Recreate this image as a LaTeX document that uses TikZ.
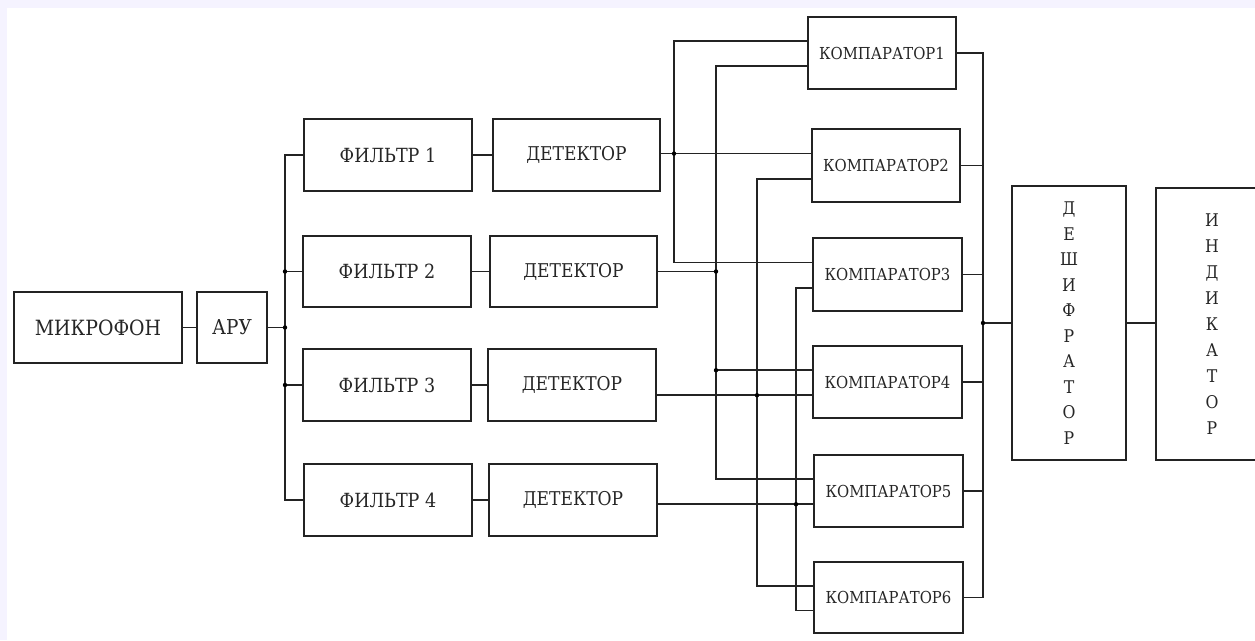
\documentclass[tikz,border=0pt]{standalone}
\usepackage{fontspec}
\setmainfont[FakeStretch=0.9]{DejaVu Serif}
\usetikzlibrary{calc}
\definecolor{framelilac}{RGB}{245,243,255}
\definecolor{wiregray}{RGB}{35,35,35}

\begin{document}
\begin{tikzpicture}[x=1pt, y=-1pt,
    blk/.style={draw=wiregray, line width=1.5pt, inner sep=0pt, align=center, text=black!85},
    wire/.style={wiregray, line width=1.5pt},
    dot/.style={fill=black}]
  \fill[framelilac] (0,0) rectangle (1255,640);
  \fill[white] (7,8) rectangle (1255,640);
  \clip (0,0) rectangle (1255,640);

  % input chain
  \node[blk, minimum width=168pt, minimum height=71pt, font=\fontsize{21}{23}\selectfont] (mic) at (98,327.5) {МИКРОФОН};
  \node[blk, minimum width=70pt, minimum height=71pt, font=\fontsize{20.5}{23}\selectfont] (aru) at (232,327.5) {АРУ};

  \node[blk, minimum width=168pt, minimum height=72pt, font=\fontsize{19.5}{22}\selectfont] (f1) at (388,155) {ФИЛЬТР 1};
  \node[blk, minimum width=168pt, minimum height=71pt, font=\fontsize{19.5}{22}\selectfont] (f2) at (387,271.5) {ФИЛЬТР 2};
  \node[blk, minimum width=168pt, minimum height=72pt, font=\fontsize{19.5}{22}\selectfont] (f3) at (387,385) {ФИЛЬТР 3};
  \node[blk, minimum width=168pt, minimum height=72pt, font=\fontsize{19.5}{22}\selectfont] (f4) at (388,500) {ФИЛЬТР 4};

  \node[blk, minimum width=167pt, minimum height=72pt, font=\fontsize{19}{22}\selectfont] (d1) at (576.5,155) {ДЕТЕКТОР};
  \node[blk, minimum width=167pt, minimum height=71pt, font=\fontsize{19}{22}\selectfont] (d2) at (573.5,271.5) {ДЕТЕКТОР};
  \node[blk, minimum width=168pt, minimum height=72pt, font=\fontsize{19}{22}\selectfont] (d3) at (572,385) {ДЕТЕКТОР};
  \node[blk, minimum width=168pt, minimum height=72pt, font=\fontsize{19}{22}\selectfont] (d4) at (573,500) {ДЕТЕКТОР};

  % comparators
  \node[blk, minimum width=148pt, minimum height=72pt, font=\fontsize{16.5}{19}\selectfont] (k1) at (882,53) {КОМПАРАТОР1};
  \node[blk, minimum width=148pt, minimum height=73pt, font=\fontsize{16.5}{19}\selectfont] (k2) at (886,165.5) {КОМПАРАТОР2};
  \node[blk, minimum width=149pt, minimum height=73pt, font=\fontsize{16.5}{19}\selectfont] (k3) at (887.5,274.5) {КОМПАРАТОР3};
  \node[blk, minimum width=149pt, minimum height=72pt, font=\fontsize{16.5}{19}\selectfont] (k4) at (887.5,382) {КОМПАРАТОР4};
  \node[blk, minimum width=149pt, minimum height=72pt, font=\fontsize{16.5}{19}\selectfont] (k5) at (888.5,491) {КОМПАРАТОР5};
  \node[blk, minimum width=149pt, minimum height=71pt, font=\fontsize{16.5}{19}\selectfont] (k6) at (888.5,597.5) {КОМПАРАТОР6};

  \node[blk, minimum width=114pt, minimum height=274pt, font=\fontsize{17.5}{25.5}\selectfont] (dec) at (1069,323) {Д\\Е\\Ш\\И\\Ф\\Р\\А\\Т\\О\\Р};
  \node[blk, minimum width=112pt, minimum height=272pt, font=\fontsize{17.5}{26}\selectfont] (ind) at (1212,324) {И\\Н\\Д\\И\\К\\А\\Т\\О\\Р};

  % comparator inputs and buses
  \foreach \k in {1,...,6} {
    \coordinate (k\k a) at ($(k\k.north west)!0.34!(k\k.south west)$);
    \coordinate (k\k b) at ($(k\k.north west)!0.68!(k\k.south west)$);
  }
  \coordinate (fb) at (285,0);
  \coordinate (b1) at (674,0);
  \coordinate (b2) at (716,0);
  \coordinate (b3) at (757,0);
  \coordinate (b4) at (796,0);
  \coordinate (rb) at (983,0);

  \draw[wire] (mic) -- (aru);
  \draw[wire] (f1.west) -- (f1.west -| fb) -- (f4.west -| fb) -- (f4.west);
  \draw[wire] (f2.west) -- (f2.west -| fb);
  \draw[wire] (f3.west) -- (f3.west -| fb);
  \draw[wire] (aru.east) -- (aru.east -| fb);
  \foreach \i in {1,...,4} \draw[wire] (f\i.east) -- (f\i.east -| d\i.west);
  \fill[dot] (aru.east -| fb) circle (2.2pt) (f2.west -| fb) circle (2.2pt) (f3.west -| fb) circle (2.2pt);

  \draw[wire] (d1.east |- k2a) -- (k2a);
  \draw[wire] (k1a) -- (k1a -| b1) -- (k3a -| b1) -- (k3a);
  \fill[dot] (k2a -| b1) circle (2.2pt);

  \draw[wire] (d2.east) -- (d2.east -| b2);
  \draw[wire] (k1b) -- (k1b -| b2) -- (k5a -| b2) -- (k5a);
  \draw[wire] (k4a -| b2) -- (k4a);
  \fill[dot] (d2.east -| b2) circle (2.2pt) (k4a -| b2) circle (2.2pt);

  \draw[wire] (d3.east |- k4b) -- (k4b);
  \draw[wire] (k2b) -- (k2b -| b3) -- (k6a -| b3) -- (k6a);
  \fill[dot] (k4b -| b3) circle (2.2pt);

  \draw[wire] (d4.east |- k5b) -- (k5b);
  \draw[wire] (k3b) -- (k3b -| b4) -- (k6b -| b4) -- (k6b);
  \fill[dot] (k5b -| b4) circle (2.2pt);

  % comparator outputs
  \draw[wire] (k1.east) -- (k1.east -| rb) -- (k6.east -| rb) -- (k6.east);
  \foreach \k in {k2,k3,k4,k5} \draw[wire] (\k.east) -- (\k.east -| rb);
  \draw[wire] (dec.west -| rb) -- (dec.west);
  \fill[dot] (dec.west -| rb) circle (2.2pt);
  \draw[wire] (dec.east) -- (dec.east -| ind.west);
\end{tikzpicture}
\end{document}
